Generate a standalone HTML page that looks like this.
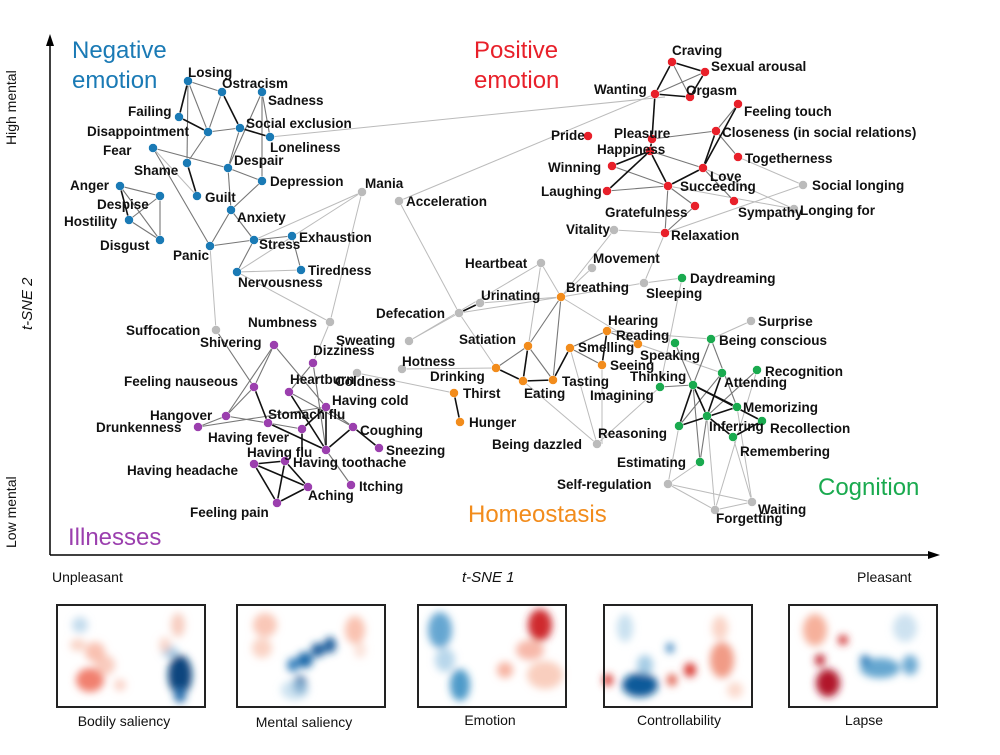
<!DOCTYPE html>
<html><head><meta charset="utf-8"><style>
body{margin:0;background:#fff;}
svg text{font-family:"Liberation Sans",Arial,sans-serif;}
.l{font-size:13.5px;font-weight:bold;fill:#111;}
.c{font-size:24px;}
.e1 line{stroke:#bbb;stroke-width:1;}
.e2 line{stroke:#777;stroke-width:1.1;}
.e3 line{stroke:#111;stroke-width:1.6;}
.b{fill:#1a7ab5}.r{fill:#e8202a}.g{fill:#bbb}.o{fill:#f28c1c}.gr{fill:#1aaa4f}.p{fill:#9b3fae}
</style></head><body>
<svg width="1000" height="750" viewBox="0 0 1000 750" xmlns="http://www.w3.org/2000/svg">
<defs>
<filter id="bl" x="-50%" y="-50%" width="200%" height="200%"><feGaussianBlur stdDeviation="4"/></filter>
<clipPath id="cp"><rect x="57" y="605" width="880" height="102"/></clipPath>
</defs>
<!-- axes -->
<line x1="50" y1="555" x2="50" y2="42" stroke="#000" stroke-width="1.5"/>
<polygon points="50,34 46,46 54,46" fill="#000"/>
<line x1="50" y1="555" x2="930" y2="555" stroke="#000" stroke-width="1.5"/>
<polygon points="940,555 928,551 928,559" fill="#000"/>
<text x="16" y="145" transform="rotate(-90 16 145)" font-size="14" fill="#111">High mental</text>
<text x="16" y="548" transform="rotate(-90 16 548)" font-size="14" fill="#111">Low mental</text>
<text x="32" y="330" transform="rotate(-90 32 330)" font-size="15" font-style="italic" fill="#111">t-SNE 2</text>
<text x="52" y="582" font-size="14" fill="#111">Unpleasant</text>
<text x="462" y="582" font-size="15" font-style="italic" fill="#111">t-SNE 1</text>
<text x="857" y="582" font-size="14" fill="#111">Pleasant</text>
<text class="c" x="72" y="58" fill="#1a7ab5">Negative</text>
<text class="c" x="72" y="88" fill="#1a7ab5">emotion</text>
<text class="c" x="474" y="58" fill="#e8202a">Positive</text>
<text class="c" x="474" y="88" fill="#e8202a">emotion</text>
<text class="c" x="68" y="545" fill="#9b3fae">Illnesses</text>
<text class="c" x="468" y="522" fill="#f28c1c">Homeostasis</text>
<text class="c" x="818" y="495" fill="#1aaa4f">Cognition</text>
<g class="e1">
<line x1="270" y1="137" x2="665" y2="97"/><line x1="362" y1="192" x2="254" y2="240"/><line x1="362" y1="192" x2="237" y2="272"/><line x1="399" y1="201" x2="655" y2="94"/>
<line x1="399" y1="201" x2="459" y2="313"/><line x1="216" y1="330" x2="210" y2="246"/><line x1="330" y1="322" x2="362" y2="192"/><line x1="330" y1="322" x2="237" y2="272"/>
<line x1="330" y1="322" x2="313" y2="363"/><line x1="409" y1="341" x2="541" y2="263"/><line x1="402" y1="369" x2="496" y2="368"/><line x1="357" y1="373" x2="454" y2="393"/>
<line x1="541" y1="263" x2="561" y2="297"/><line x1="541" y1="263" x2="523" y2="381"/><line x1="592" y1="268" x2="561" y2="297"/><line x1="614" y1="230" x2="561" y2="297"/>
<line x1="644" y1="283" x2="682" y2="278"/><line x1="644" y1="283" x2="665" y2="233"/><line x1="597" y1="444" x2="660" y2="387"/><line x1="597" y1="444" x2="570" y2="348"/>
<line x1="668" y1="484" x2="700" y2="462"/><line x1="715" y1="510" x2="707" y2="416"/><line x1="752" y1="502" x2="733" y2="437"/><line x1="751" y1="321" x2="711" y2="339"/>
<line x1="803" y1="185" x2="738" y2="157"/><line x1="794" y1="209" x2="703" y2="168"/><line x1="794" y1="209" x2="668" y2="186"/><line x1="803" y1="185" x2="665" y2="233"/>
<line x1="682" y1="278" x2="660" y2="387"/><line x1="607" y1="331" x2="711" y2="339"/><line x1="638" y1="344" x2="722" y2="373"/><line x1="715" y1="510" x2="757" y2="370"/>
<line x1="752" y1="502" x2="737" y2="407"/><line x1="668" y1="484" x2="679" y2="426"/><line x1="614" y1="230" x2="665" y2="233"/><line x1="523" y1="381" x2="597" y2="444"/>
<line x1="237" y1="272" x2="301" y2="270"/><line x1="153" y1="148" x2="197" y2="196"/><line x1="459" y1="313" x2="561" y2="297"/><line x1="480" y1="303" x2="561" y2="297"/>
<line x1="409" y1="341" x2="459" y2="313"/><line x1="459" y1="313" x2="496" y2="368"/><line x1="668" y1="484" x2="752" y2="502"/><line x1="715" y1="510" x2="752" y2="502"/>
<line x1="668" y1="484" x2="715" y2="510"/><line x1="561" y1="297" x2="644" y2="283"/><line x1="561" y1="297" x2="638" y2="344"/><line x1="602" y1="365" x2="602" y2="444"/>
</g>
<g class="e2">
<line x1="188" y1="81" x2="222" y2="92"/><line x1="188" y1="81" x2="208" y2="132"/><line x1="188" y1="81" x2="187" y2="163"/><line x1="222" y1="92" x2="208" y2="132"/>
<line x1="208" y1="132" x2="240" y2="128"/><line x1="262" y1="92" x2="228" y2="168"/><line x1="262" y1="92" x2="262" y2="181"/><line x1="262" y1="92" x2="270" y2="137"/>
<line x1="153" y1="148" x2="228" y2="168"/><line x1="228" y1="168" x2="262" y2="181"/><line x1="262" y1="181" x2="231" y2="210"/><line x1="231" y1="210" x2="228" y2="168"/>
<line x1="231" y1="210" x2="210" y2="246"/><line x1="231" y1="210" x2="254" y2="240"/><line x1="210" y1="246" x2="254" y2="240"/><line x1="254" y1="240" x2="292" y2="236"/>
<line x1="153" y1="148" x2="210" y2="246"/><line x1="120" y1="186" x2="160" y2="196"/><line x1="160" y1="196" x2="160" y2="240"/><line x1="129" y1="220" x2="160" y2="240"/>
<line x1="120" y1="186" x2="160" y2="240"/><line x1="129" y1="220" x2="160" y2="196"/><line x1="254" y1="240" x2="237" y2="272"/><line x1="292" y1="236" x2="301" y2="270"/>
<line x1="208" y1="132" x2="187" y2="163"/><line x1="240" y1="128" x2="228" y2="168"/>
<line x1="672" y1="62" x2="690" y2="97"/><line x1="705" y1="72" x2="655" y2="94"/><line x1="652" y1="139" x2="716" y2="131"/><line x1="716" y1="131" x2="738" y2="157"/>
<line x1="738" y1="104" x2="716" y2="131"/><line x1="650" y1="151" x2="703" y2="168"/><line x1="612" y1="166" x2="668" y2="186"/><line x1="607" y1="191" x2="668" y2="186"/>
<line x1="668" y1="186" x2="695" y2="206"/><line x1="703" y1="168" x2="734" y2="201"/><line x1="695" y1="206" x2="665" y2="233"/><line x1="668" y1="186" x2="665" y2="233"/>
<line x1="528" y1="346" x2="553" y2="380"/><line x1="561" y1="297" x2="528" y2="346"/><line x1="496" y1="368" x2="528" y2="346"/><line x1="570" y1="348" x2="607" y2="331"/><line x1="570" y1="348" x2="602" y2="365"/>
<line x1="607" y1="331" x2="638" y2="344"/><line x1="561" y1="297" x2="553" y2="380"/>
<line x1="711" y1="339" x2="693" y2="385"/><line x1="711" y1="339" x2="737" y2="407"/><line x1="757" y1="370" x2="707" y2="416"/><line x1="660" y1="387" x2="693" y2="385"/>
<line x1="679" y1="426" x2="722" y2="373"/><line x1="700" y1="462" x2="707" y2="416"/><line x1="700" y1="462" x2="693" y2="385"/><line x1="675" y1="343" x2="693" y2="385"/>
<line x1="274" y1="345" x2="254" y2="387"/><line x1="274" y1="345" x2="226" y2="416"/><line x1="226" y1="416" x2="198" y2="427"/><line x1="254" y1="387" x2="226" y2="416"/>
<line x1="313" y1="363" x2="289" y2="392"/><line x1="289" y1="392" x2="326" y2="450"/><line x1="326" y1="407" x2="353" y2="427"/><line x1="353" y1="427" x2="379" y2="448"/>
<line x1="326" y1="450" x2="351" y2="485"/><line x1="268" y1="423" x2="302" y2="429"/><line x1="274" y1="345" x2="326" y2="407"/>
<line x1="198" y1="427" x2="326" y2="407"/><line x1="313" y1="363" x2="326" y2="450"/><line x1="289" y1="392" x2="353" y2="427"/><line x1="226" y1="416" x2="268" y2="423"/><line x1="216" y1="330" x2="254" y2="387"/>
</g>
<g class="e3">
<line x1="188" y1="81" x2="179" y2="117"/><line x1="179" y1="117" x2="208" y2="132"/><line x1="222" y1="92" x2="240" y2="128"/><line x1="240" y1="128" x2="270" y2="137"/>
<line x1="187" y1="163" x2="197" y2="196"/><line x1="120" y1="186" x2="129" y2="220"/>
<line x1="672" y1="62" x2="705" y2="72"/><line x1="672" y1="62" x2="655" y2="94"/><line x1="655" y1="94" x2="690" y2="97"/><line x1="705" y1="72" x2="690" y2="97"/>
<line x1="655" y1="94" x2="652" y2="139"/><line x1="652" y1="139" x2="650" y2="151"/><line x1="650" y1="151" x2="612" y2="166"/><line x1="650" y1="151" x2="668" y2="186"/>
<line x1="650" y1="151" x2="607" y2="191"/><line x1="716" y1="131" x2="703" y2="168"/><line x1="703" y1="168" x2="668" y2="186"/><line x1="738" y1="104" x2="703" y2="168"/>
<line x1="459" y1="313" x2="480" y2="303"/><line x1="454" y1="393" x2="460" y2="422"/><line x1="528" y1="346" x2="523" y2="381"/><line x1="496" y1="368" x2="523" y2="381"/>
<line x1="523" y1="381" x2="553" y2="380"/><line x1="553" y1="380" x2="570" y2="348"/><line x1="607" y1="331" x2="602" y2="365"/>
<line x1="693" y1="385" x2="679" y2="426"/><line x1="693" y1="385" x2="737" y2="407"/><line x1="693" y1="385" x2="707" y2="416"/><line x1="693" y1="385" x2="762" y2="421"/>
<line x1="722" y1="373" x2="707" y2="416"/><line x1="679" y1="426" x2="737" y2="407"/><line x1="707" y1="416" x2="733" y2="437"/><line x1="733" y1="437" x2="762" y2="421"/>
<line x1="254" y1="464" x2="285" y2="461"/><line x1="254" y1="464" x2="308" y2="487"/><line x1="254" y1="464" x2="277" y2="503"/><line x1="285" y1="461" x2="308" y2="487"/>
<line x1="277" y1="503" x2="308" y2="487"/><line x1="285" y1="461" x2="277" y2="503"/><line x1="254" y1="387" x2="268" y2="423"/><line x1="268" y1="423" x2="326" y2="450"/>
<line x1="302" y1="429" x2="326" y2="407"/><line x1="326" y1="407" x2="326" y2="450"/><line x1="326" y1="450" x2="353" y2="427"/><line x1="353" y1="427" x2="379" y2="448"/><line x1="302" y1="429" x2="302" y2="450"/><line x1="289" y1="392" x2="326" y2="450"/>
</g>
<g stroke="#fff" stroke-width="0.5">
<g class="b"><circle cx="188" cy="81" r="4.5"/><circle cx="222" cy="92" r="4.5"/><circle cx="262" cy="92" r="4.5"/><circle cx="179" cy="117" r="4.5"/><circle cx="208" cy="132" r="4.5"/><circle cx="240" cy="128" r="4.5"/><circle cx="270" cy="137" r="4.5"/><circle cx="153" cy="148" r="4.5"/><circle cx="187" cy="163" r="4.5"/><circle cx="228" cy="168" r="4.5"/><circle cx="262" cy="181" r="4.5"/><circle cx="120" cy="186" r="4.5"/><circle cx="160" cy="196" r="4.5"/><circle cx="129" cy="220" r="4.5"/><circle cx="160" cy="240" r="4.5"/><circle cx="197" cy="196" r="4.5"/><circle cx="231" cy="210" r="4.5"/><circle cx="210" cy="246" r="4.5"/><circle cx="254" cy="240" r="4.5"/><circle cx="292" cy="236" r="4.5"/><circle cx="301" cy="270" r="4.5"/><circle cx="237" cy="272" r="4.5"/></g>
<g class="r"><circle cx="672" cy="62" r="4.5"/><circle cx="705" cy="72" r="4.5"/><circle cx="655" cy="94" r="4.5"/><circle cx="690" cy="97" r="4.5"/><circle cx="738" cy="104" r="4.5"/><circle cx="588" cy="136" r="4.5"/><circle cx="652" cy="139" r="4.5"/><circle cx="650" cy="151" r="4.5"/><circle cx="716" cy="131" r="4.5"/><circle cx="612" cy="166" r="4.5"/><circle cx="703" cy="168" r="4.5"/><circle cx="738" cy="157" r="4.5"/><circle cx="607" cy="191" r="4.5"/><circle cx="668" cy="186" r="4.5"/><circle cx="734" cy="201" r="4.5"/><circle cx="695" cy="206" r="4.5"/><circle cx="665" cy="233" r="4.5"/></g>
<g class="g"><circle cx="803" cy="185" r="4.5"/><circle cx="794" cy="209" r="4.5"/><circle cx="614" cy="230" r="4.5"/><circle cx="362" cy="192" r="4.5"/><circle cx="399" cy="201" r="4.5"/><circle cx="541" cy="263" r="4.5"/><circle cx="592" cy="268" r="4.5"/><circle cx="644" cy="283" r="4.5"/><circle cx="216" cy="330" r="4.5"/><circle cx="330" cy="322" r="4.5"/><circle cx="409" cy="341" r="4.5"/><circle cx="402" cy="369" r="4.5"/><circle cx="357" cy="373" r="4.5"/><circle cx="459" cy="313" r="4.5"/><circle cx="480" cy="303" r="4.5"/><circle cx="597" cy="444" r="4.5"/><circle cx="668" cy="484" r="4.5"/><circle cx="715" cy="510" r="4.5"/><circle cx="752" cy="502" r="4.5"/><circle cx="751" cy="321" r="4.5"/></g>
<g class="o"><circle cx="561" cy="297" r="4.5"/><circle cx="607" cy="331" r="4.5"/><circle cx="638" cy="344" r="4.5"/><circle cx="528" cy="346" r="4.5"/><circle cx="570" cy="348" r="4.5"/><circle cx="602" cy="365" r="4.5"/><circle cx="496" cy="368" r="4.5"/><circle cx="454" cy="393" r="4.5"/><circle cx="523" cy="381" r="4.5"/><circle cx="553" cy="380" r="4.5"/><circle cx="460" cy="422" r="4.5"/></g>
<g class="gr"><circle cx="682" cy="278" r="4.5"/><circle cx="711" cy="339" r="4.5"/><circle cx="675" cy="343" r="4.5"/><circle cx="757" cy="370" r="4.5"/><circle cx="693" cy="385" r="4.5"/><circle cx="660" cy="387" r="4.5"/><circle cx="722" cy="373" r="4.5"/><circle cx="737" cy="407" r="4.5"/><circle cx="707" cy="416" r="4.5"/><circle cx="762" cy="421" r="4.5"/><circle cx="679" cy="426" r="4.5"/><circle cx="733" cy="437" r="4.5"/><circle cx="700" cy="462" r="4.5"/></g>
<g class="p"><circle cx="274" cy="345" r="4.5"/><circle cx="313" cy="363" r="4.5"/><circle cx="254" cy="387" r="4.5"/><circle cx="289" cy="392" r="4.5"/><circle cx="326" cy="407" r="4.5"/><circle cx="226" cy="416" r="4.5"/><circle cx="198" cy="427" r="4.5"/><circle cx="268" cy="423" r="4.5"/><circle cx="353" cy="427" r="4.5"/><circle cx="302" cy="429" r="4.5"/><circle cx="326" cy="450" r="4.5"/><circle cx="379" cy="448" r="4.5"/><circle cx="254" cy="464" r="4.5"/><circle cx="285" cy="461" r="4.5"/><circle cx="351" cy="485" r="4.5"/><circle cx="308" cy="487" r="4.5"/><circle cx="277" cy="503" r="4.5"/></g>
</g>
<g class="l">
<text x="188" y="77">Losing</text><text x="222" y="88">Ostracism</text><text x="268" y="105">Sadness</text><text x="128" y="116">Failing</text><text x="87" y="136">Disappointment</text><text x="246" y="128">Social exclusion</text><text x="270" y="152">Loneliness</text><text x="103" y="155">Fear</text><text x="134" y="175">Shame</text><text x="234" y="165">Despair</text><text x="270" y="186">Depression</text><text x="70" y="190">Anger</text><text x="97" y="209">Despise</text><text x="64" y="226">Hostility</text><text x="100" y="250">Disgust</text><text x="205" y="202">Guilt</text><text x="237" y="222">Anxiety</text><text x="173" y="260">Panic</text><text x="259" y="249">Stress</text><text x="299" y="242">Exhaustion</text><text x="308" y="275">Tiredness</text><text x="238" y="287">Nervousness</text>
<text x="365" y="188">Mania</text><text x="406" y="206">Acceleration</text>
<text x="672" y="55">Craving</text><text x="711" y="71">Sexual arousal</text><text x="594" y="94">Wanting</text><text x="686" y="95">Orgasm</text><text x="744" y="116">Feeling touch</text><text x="551" y="140">Pride</text><text x="614" y="138">Pleasure</text><text x="597" y="154">Happiness</text><text x="722" y="137">Closeness (in social relations)</text><text x="548" y="172">Winning</text><text x="710" y="181">Love</text><text x="745" y="163">Togetherness</text><text x="541" y="196">Laughing</text><text x="680" y="191">Succeeding</text><text x="738" y="217">Sympathy</text><text x="605" y="217">Gratefulness</text><text x="671" y="240">Relaxation</text><text x="812" y="190">Social longing</text><text x="800" y="215">Longing for</text><text x="566" y="234">Vitality</text>
<text x="465" y="268">Heartbeat</text><text x="593" y="263">Movement</text><text x="481" y="300">Urinating</text><text x="566" y="292">Breathing</text><text x="646" y="298">Sleeping</text><text x="690" y="283">Daydreaming</text><text x="376" y="318">Defecation</text><text x="758" y="326">Surprise</text>
<text x="608" y="325">Hearing</text><text x="616" y="340">Reading</text><text x="459" y="344">Satiation</text><text x="578" y="352">Smelling</text><text x="640" y="360">Speaking</text><text x="610" y="370">Seeing</text><text x="430" y="381">Drinking</text><text x="463" y="398">Thirst</text><text x="524" y="398">Eating</text><text x="562" y="386">Tasting</text><text x="469" y="427">Hunger</text>
<text x="719" y="345">Being conscious</text><text x="765" y="376">Recognition</text><text x="630" y="381">Thinking</text><text x="724" y="387">Attending</text><text x="590" y="400">Imagining</text><text x="743" y="412">Memorizing</text><text x="709" y="431">Inferring</text><text x="770" y="433">Recollection</text><text x="598" y="438">Reasoning</text><text x="740" y="456">Remembering</text><text x="617" y="467">Estimating</text>
<text x="492" y="449">Being dazzled</text><text x="557" y="489">Self-regulation</text><text x="716" y="523">Forgetting</text><text x="758" y="514">Waiting</text>
<text x="126" y="335">Suffocation</text><text x="248" y="327">Numbness</text><text x="336" y="345">Sweating</text><text x="402" y="366">Hotness</text><text x="335" y="386">Coldness</text>
<text x="200" y="347">Shivering</text><text x="313" y="355">Dizziness</text><text x="124" y="386">Feeling nauseous</text><text x="290" y="384">Heartburn</text><text x="332" y="405">Having cold</text><text x="150" y="420">Hangover</text><text x="96" y="432">Drunkenness</text><text x="268" y="419">Stomach flu</text><text x="360" y="435">Coughing</text><text x="208" y="442">Having fever</text><text x="247" y="457">Having flu</text><text x="293" y="467">Having toothache</text><text x="386" y="455">Sneezing</text><text x="127" y="475">Having headache</text><text x="359" y="491">Itching</text><text x="308" y="500">Aching</text><text x="190" y="517">Feeling pain</text>
</g>
<!-- heatmaps -->
<g filter="url(#bl)" clip-path="url(#cp)">
<ellipse cx="80" cy="625" rx="8" ry="8" fill="#a9cde6" opacity="0.7"/><ellipse cx="78" cy="645" rx="8" ry="6" fill="#f8c8b8" opacity="0.8"/><ellipse cx="95" cy="652" rx="10" ry="10" fill="#f6a690" opacity="0.7"/><ellipse cx="90" cy="680" rx="14" ry="12" fill="#ef6a55" opacity="0.85"/><ellipse cx="105" cy="665" rx="10" ry="10" fill="#f7b6a4" opacity="0.7"/><ellipse cx="180" cy="675" rx="12" ry="20" fill="#08447e"/><ellipse cx="180" cy="695" rx="6" ry="8" fill="#2a70ad"/><ellipse cx="170" cy="652" rx="8" ry="6" fill="#8ebede" opacity="0.8"/><ellipse cx="178" cy="625" rx="7" ry="12" fill="#f4b8a5" opacity="0.7"/><ellipse cx="165" cy="645" rx="6" ry="8" fill="#f8c8b8" opacity="0.7"/><ellipse cx="120" cy="685" rx="6" ry="6" fill="#f7b6a4" opacity="0.6"/>
<ellipse cx="265" cy="625" rx="12" ry="12" fill="#f8b9a5" opacity="0.8"/><ellipse cx="262" cy="648" rx="10" ry="10" fill="#f8c0ad" opacity="0.7"/><ellipse cx="305" cy="660" rx="8" ry="8" fill="#1e6aaa"/><ellipse cx="318" cy="650" rx="7" ry="7" fill="#1a5d9c"/><ellipse cx="330" cy="645" rx="6" ry="8" fill="#1a5d9c"/><ellipse cx="293" cy="665" rx="6" ry="7" fill="#3a84bf"/><ellipse cx="300" cy="685" rx="7" ry="9" fill="#185a9a"/><ellipse cx="295" cy="690" rx="14" ry="10" fill="#b7d6ea" opacity="0.7"/><ellipse cx="355" cy="630" rx="10" ry="14" fill="#f7b39e" opacity="0.8"/><ellipse cx="360" cy="650" rx="6" ry="8" fill="#f9cfc0" opacity="0.6"/>
<ellipse cx="440" cy="630" rx="12" ry="18" fill="#3d90c6" opacity="0.8"/><ellipse cx="445" cy="660" rx="10" ry="12" fill="#9ac6e2" opacity="0.7"/><ellipse cx="460" cy="685" rx="10" ry="16" fill="#2d88c0" opacity="0.85"/><ellipse cx="540" cy="625" rx="12" ry="16" fill="#cf2a2e"/><ellipse cx="530" cy="650" rx="14" ry="10" fill="#f49a85" opacity="0.7"/><ellipse cx="545" cy="675" rx="18" ry="14" fill="#f8c2ae" opacity="0.8"/><ellipse cx="505" cy="670" rx="8" ry="8" fill="#f5a08b" opacity="0.8"/>
<ellipse cx="625" cy="628" rx="8" ry="14" fill="#bcd9ec" opacity="0.8"/><ellipse cx="640" cy="685" rx="18" ry="12" fill="#0f5a9a"/><ellipse cx="645" cy="665" rx="8" ry="10" fill="#8fbfde" opacity="0.8"/><ellipse cx="608" cy="680" rx="5" ry="6" fill="#d93a35"/><ellipse cx="672" cy="680" rx="5" ry="6" fill="#e06050"/><ellipse cx="690" cy="670" rx="6" ry="7" fill="#d8362f"/><ellipse cx="722" cy="660" rx="12" ry="18" fill="#ef8a72" opacity="0.85"/><ellipse cx="720" cy="628" rx="8" ry="12" fill="#f8c2ae" opacity="0.7"/><ellipse cx="735" cy="690" rx="8" ry="8" fill="#f8c2ae" opacity="0.6"/><ellipse cx="670" cy="648" rx="4" ry="5" fill="#3a84bf"/>
<ellipse cx="815" cy="630" rx="12" ry="16" fill="#f4a28a" opacity="0.85"/><ellipse cx="828" cy="683" rx="12" ry="14" fill="#b1172a"/><ellipse cx="820" cy="660" rx="5" ry="6" fill="#c0242d"/><ellipse cx="843" cy="640" rx="5" ry="5" fill="#d03030"/><ellipse cx="880" cy="668" rx="20" ry="10" fill="#4a96c8" opacity="0.85"/><ellipse cx="910" cy="665" rx="8" ry="10" fill="#4a96c8" opacity="0.8"/><ellipse cx="905" cy="628" rx="12" ry="14" fill="#b8d6ea" opacity="0.7"/><ellipse cx="865" cy="660" rx="5" ry="5" fill="#2c7ab8"/>
</g>
<g fill="none" stroke="#222" stroke-width="2">
<rect x="57" y="605" width="148" height="102"/><rect x="237" y="605" width="148" height="102"/><rect x="418" y="605" width="148" height="102"/><rect x="604" y="605" width="148" height="102"/><rect x="789" y="605" width="148" height="102"/>
</g>
<g font-size="14" fill="#111" text-anchor="middle">
<text x="124" y="726">Bodily saliency</text><text x="304" y="727">Mental saliency</text><text x="490" y="725">Emotion</text><text x="679" y="725">Controllability</text><text x="864" y="725">Lapse</text>
</g>
</svg>
</body></html>
